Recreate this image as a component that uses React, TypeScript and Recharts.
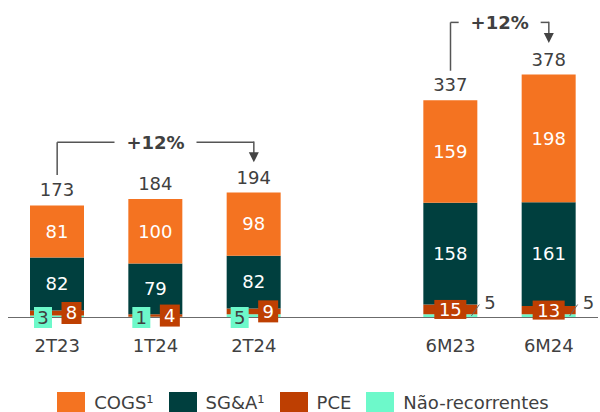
import { Bar, BarChart, LabelList, Legend, ReferenceLine, XAxis, YAxis } from "recharts";

const categories = ["2T23", "1T24", "2T24", "", "6M23", "6M24"];
const cogs = [81, 100, 98, null, 159, 198];
const sga = [82, 79, 82, null, 158, 161];
const pce = [8, 4, 9, null, 15, 13];
const naoRecorrentes = [3, 1, 5, null, 5, 5];
const totals = [173, 184, 194, null, 337, 378];

const COLORS = {
  cogs: "#F47321",
  sga: "#003F3E",
  pce: "#BE3F02",
  nao: "#6DF9CA",
};
const TEXT = "#404040";
const FONT = "'DejaVu Sans', sans-serif";

const data = categories.map((name, i) => ({
  name,
  cogs: cogs[i],
  sga: sga[i],
  pce: pce[i],
  nao: naoRecorrentes[i],
  total: totals[i],
}));

const legendItems = [
  { name: "COGS¹", color: COLORS.cogs },
  { name: "SG&A¹", color: COLORS.sga },
  { name: "PCE", color: COLORS.pce },
  { name: "Não-recorrentes", color: COLORS.nao },
];

// growth brackets, y in chart units
const growthNotes = [
  { from: "2T23", to: "2T24", label: "+12%", top: 272, start: 221, end: 241 },
  { from: "6M23", to: "6M24", label: "+12%", top: 458, start: 383, end: 426 },
];

const isHalfYear = (name: string) => name.startsWith("6M");

const box = (p: any) => {
  const vb = p.viewBox ?? p;
  return { x: vb.x, y: vb.y, w: vb.width, h: vb.height };
};

// label content gets the whole row as value (see valueAccessor below)
const rowOf = (entry: any) => entry.payload;

const TotalLabel = (props: any) => {
  const { x, y, w } = box(props);
  if (props.value == null) return null;
  return (
    <text x={x + w / 2} y={y - 9} textAnchor="middle" fontSize={18} fill={TEXT}>
      {props.value}
    </text>
  );
};

const PceLabel = (props: any) => {
  const row = props.value;
  if (!row || row.pce == null) return null;
  const { x, y, w, h } = box(props);
  const cy = y + h / 2;
  if (isHalfYear(row.name)) {
    const bw = 32;
    const bh = 19;
    const cx = x + w / 2;
    return (
      <g>
        <rect x={cx - bw / 2} y={cy - bh / 2} width={bw} height={bh} fill={COLORS.pce} />
        <text x={cx} y={cy} dy="0.36em" textAnchor="middle" fontSize={18} fill="#fff">
          {row.pce}
        </text>
      </g>
    );
  }
  const bw = 20;
  const bh = 22;
  const bx = x + w - 2.5 - bw;
  return (
    <g>
      <rect x={bx} y={cy - bh / 2} width={bw} height={bh} fill={COLORS.pce} />
      <text x={bx + bw / 2} y={cy} dy="0.36em" textAnchor="middle" fontSize={18} fill="#fff">
        {row.pce}
      </text>
    </g>
  );
};

const NaoLabel = (props: any) => {
  const row = props.value;
  if (!row || row.nao == null) return null;
  const { x, y, w, h } = box(props);
  const bottom = y + h;
  const cx = x + w / 2;
  if (isHalfYear(row.name)) {
    return (
      <g>
        <line x1={cx + 21} y1={bottom - 1.5} x2={cx + 29} y2={bottom - 13} stroke="#666" strokeWidth={1} />
        <text x={cx + 34} y={bottom - 15} dy="0.36em" fontSize={18} fill={TEXT}>
          {row.nao}
        </text>
      </g>
    );
  }
  const bw = 18;
  const bh = 21;
  const bx = x + 4;
  return (
    <g>
      <rect x={bx} y={bottom - bh / 2} width={bw} height={bh} fill={COLORS.nao} />
      <text x={bx + bw / 2} y={bottom} dy="0.36em" textAnchor="middle" fontSize={18} fill={TEXT}>
        {row.nao}
      </text>
    </g>
  );
};

const BracketTop = (p: any) => {
  const mid = (p.x1 + p.x2) / 2;
  const gap = 41;
  return (
    <g>
      <line x1={p.x1} y1={p.y1} x2={mid - gap} y2={p.y1} stroke="#555" strokeWidth={1.5} />
      <line x1={mid + gap} y1={p.y1} x2={p.x2} y2={p.y1} stroke="#555" strokeWidth={1.5} />
      <text x={mid} y={p.y1} dy="0.36em" textAnchor="middle" fontSize={18} fontWeight="bold" fill={TEXT}>
        {p.label}
      </text>
    </g>
  );
};

const ArrowDown = (p: any) => (
  <g>
    <line x1={p.x1} y1={p.y1 - 0.75} x2={p.x2} y2={p.y2 - 9} stroke="#555" strokeWidth={1.5} />
    <polygon points={`${p.x2 - 5},${p.y2 - 10} ${p.x2 + 5},${p.y2 - 10} ${p.x2},${p.y2}`} fill="#444" />
  </g>
);

const LegendContent = () => (
  <div
    style={{
      display: "flex",
      justifyContent: "center",
      alignItems: "center",
      height: 20,
      fontSize: 18,
      color: TEXT,
      fontFamily: FONT,
      whiteSpace: "nowrap",
    }}
  >
    {legendItems.map((item, i) => (
      <div key={item.name} style={{ display: "flex", alignItems: "center", marginRight: i < legendItems.length - 1 ? 15 : 0 }}>
        <span style={{ width: 28, height: 20, background: item.color, marginRight: 9, display: "inline-block" }} />
        <span>{item.name}</span>
      </div>
    ))}
  </div>
);

export default function App() {
  return (
    <div style={{ position: "absolute", left: 0, top: 0, width: 600, height: 412, fontFamily: FONT, background: "#fff" }}>
      <BarChart width={600} height={412} data={data} margin={{ top: 5, right: 2, left: 8, bottom: 0 }}>
        <XAxis
          dataKey="name"
          interval={0}
          tickLine={false}
          tickSize={0}
          tickMargin={22}
          height={74.5}
          axisLine={{ stroke: "#6b6b6b", strokeWidth: 1.2 }}
          tick={{ fontSize: 18, fill: TEXT }}
        />
        <YAxis hide domain={[0, 485]} />
        <Legend verticalAlign="bottom" content={LegendContent} />
        <Bar dataKey="nao" name="Não-recorrentes" stackId="a" fill={COLORS.nao} barSize={54} isAnimationActive={false}>
          <LabelList valueAccessor={rowOf} content={NaoLabel} />
        </Bar>
        <Bar dataKey="pce" name="PCE" stackId="a" fill={COLORS.pce} barSize={54} isAnimationActive={false}>
          <LabelList valueAccessor={rowOf} content={PceLabel} />
        </Bar>
        <Bar dataKey="sga" name="SG&A¹" stackId="a" fill={COLORS.sga} barSize={54} isAnimationActive={false}>
          <LabelList dataKey="sga" position="center" fill="#fff" fontSize={18} />
        </Bar>
        <Bar dataKey="cogs" name="COGS¹" stackId="a" fill={COLORS.cogs} barSize={54} isAnimationActive={false}>
          <LabelList dataKey="cogs" position="center" fill="#fff" fontSize={18} />
          <LabelList dataKey="total" content={TotalLabel} />
        </Bar>
        {growthNotes.map((n) => (
          <ReferenceLine
            key={`v-${n.from}`}
            ifOverflow="visible"
            segment={[{ x: n.from, y: n.start }, { x: n.from, y: n.top }]}
            stroke="#555"
            strokeWidth={1.5}
          />
        ))}
        {growthNotes.map((n) => (
          <ReferenceLine
            key={`h-${n.from}`}
            ifOverflow="visible"
            segment={[{ x: n.from, y: n.top }, { x: n.to, y: n.top }]}
            shape={(p: any) => <BracketTop {...p} label={n.label} />}
          />
        ))}
        {growthNotes.map((n) => (
          <ReferenceLine
            key={`a-${n.to}`}
            ifOverflow="visible"
            segment={[{ x: n.to, y: n.top }, { x: n.to, y: n.end }]}
            shape={(p: any) => <ArrowDown {...p} />}
          />
        ))}
      </BarChart>
    </div>
  );
}
